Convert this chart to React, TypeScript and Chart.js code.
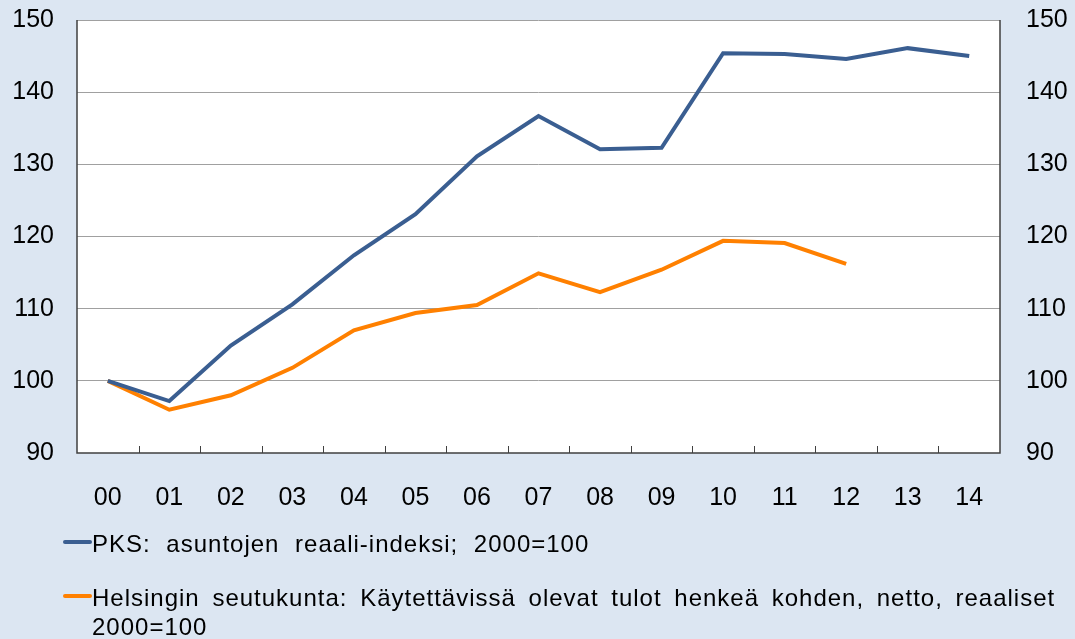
import React, { useEffect, useRef } from "react";
import { Chart, registerables } from "chart.js";

Chart.register(...registerables);

const categories = ["00","01","02","03","04","05","06","07","08","09","10","11","12","13","14"];
const pksValues = [100, 97.2, 104.9, 110.6, 117.4, 123.1, 131.1, 136.7, 132.1, 132.3, 145.4, 145.3, 144.6, 146.1, 145.0];
const helsinkiValues = [100, 96.0, 98.0, 101.8, 107.0, 109.4, 110.5, 114.9, 112.3, 115.4, 119.4, 119.1, 116.2, null, null];
const yTicks = [90, 100, 110, 120, 130, 140, 150];
const pksLabel = "PKS: asuntojen reaali-indeksi; 2000=100";
const helsinkiLabel = "Helsingin seutukunta: Käytettävissä olevat tulot henkeä kohden, netto, reaaliset 2000=100";

const BLUE = "#3a5e91";
const ORANGE = "#ff8000";
const BG = "#dce6f2";
const FONT = "'Liberation Sans', Arial, sans-serif";

const frame = {
  id: "frame",
  beforeDraw(chart: any) {
    const { ctx, chartArea: a } = chart;
    ctx.save();
    ctx.fillStyle = "#ffffff";
    ctx.fillRect(a.left, a.top, a.right - a.left, a.bottom - a.top);
    ctx.restore();
  },
  afterDraw(chart: any) {
    const { ctx, chartArea: a, scales } = chart;
    ctx.save();
    ctx.lineWidth = 1;
    ctx.strokeStyle = "#a0a0a0";
    ctx.beginPath();
    ctx.moveTo(a.left, a.top + 0.5);
    ctx.lineTo(a.right, a.top + 0.5);
    ctx.stroke();
    ctx.strokeStyle = "#404040";
    ctx.lineWidth = 1.5;
    ctx.beginPath();
    ctx.moveTo(a.left, a.top);
    ctx.lineTo(a.left, a.bottom);
    ctx.lineTo(a.right, a.bottom);
    ctx.lineTo(a.right, a.top);
    ctx.stroke();
    const x = scales.x;
    ctx.lineWidth = 1;
    ctx.beginPath();
    for (let i = 0; i < categories.length - 1; i++) {
      const px = Math.round((x.getPixelForValue(i) + x.getPixelForValue(i + 1)) / 2) + 0.5;
      ctx.moveTo(px, a.bottom);
      ctx.lineTo(px, a.bottom - 7);
    }
    ctx.stroke();
    ctx.restore();
  },
};

export default function App() {
  const ref = useRef<HTMLCanvasElement>(null);
  useEffect(() => {
    document.body.style.margin = "0";
    const tickFont = { family: FONT, size: 25 };
    const yCommon = {
      min: 90,
      max: 150,
      afterBuildTicks: (s: any) => { s.ticks = yTicks.map((v) => ({ value: v })); },
      grid: {
        drawTicks: false,
        color: (c: any) => (c.tick && (c.tick.value === 90 || c.tick.value === 150) ? "rgba(0,0,0,0)" : "#a0a0a0"),
        lineWidth: 1,
      },
      border: { display: false },
    };
    const fixY = (w: number) => (s: any) => {
      s.width = w;
      s.paddingTop = 0;
      s.paddingBottom = 0;
    };
    const chart = new Chart(ref.current!, {
      type: "line",
      data: {
        labels: categories,
        datasets: [
          { label: pksLabel, data: pksValues, borderColor: BLUE, borderWidth: 4, pointRadius: 0, tension: 0, yAxisID: "y" },
          { label: helsinkiLabel, data: helsinkiValues, borderColor: ORANGE, borderWidth: 4, pointRadius: 0, tension: 0, yAxisID: "y" },
        ],
      },
      options: {
        animation: false,
        responsive: false,
        maintainAspectRatio: false,
        layout: { padding: { top: 20, left: 0, right: 0, bottom: 0 } },
        plugins: { legend: { display: false }, tooltip: { enabled: false } },
        scales: {
          x: {
            offset: true,
            grid: { display: false },
            border: { display: false },
            ticks: { font: tickFont, color: "#000", padding: 22, maxRotation: 0 },
            afterFit: (s: any) => { s.height = 186; s.paddingLeft = 0; s.paddingRight = 0; },
          },
          y: {
            ...yCommon,
            position: "left",
            ticks: { font: tickFont, color: "#000", padding: 23 },
            afterFit: fixY(77),
          },
          y2: {
            ...yCommon,
            position: "right",
            grid: { display: false },
            ticks: { font: tickFont, color: "#000", padding: 18 },
            afterFit: fixY(75),
          },
        },
      },
      plugins: [frame],
    });
    return () => chart.destroy();
  }, []);

  const legendRow = (color: string, text: string, top: number, ws: number) => (
    <div style={{ position: "absolute", left: 63, top, width: 1010, display: "flex", alignItems: "flex-start" }}>
      <div style={{ width: 29, height: 4, background: color, marginTop: 11, flexShrink: 0, borderRadius: 2 }} />
      <div style={{ fontFamily: FONT, fontSize: 24, lineHeight: "29px", color: "#000", width: 975, letterSpacing: 1, wordSpacing: ws }}>{text}</div>
    </div>
  );

  return (
    <div style={{ position: "absolute", left: 0, top: 0, width: 1075, height: 639, background: BG, overflow: "hidden" }}>
      <canvas ref={ref} width={1075} height={639} style={{ position: "absolute", left: 0, top: 0, width: 1075, height: 639 }} />
      {legendRow(BLUE, pksLabel, 529, 8)}
      {legendRow(ORANGE, helsinkiLabel, 583, 5)}
    </div>
  );
}
